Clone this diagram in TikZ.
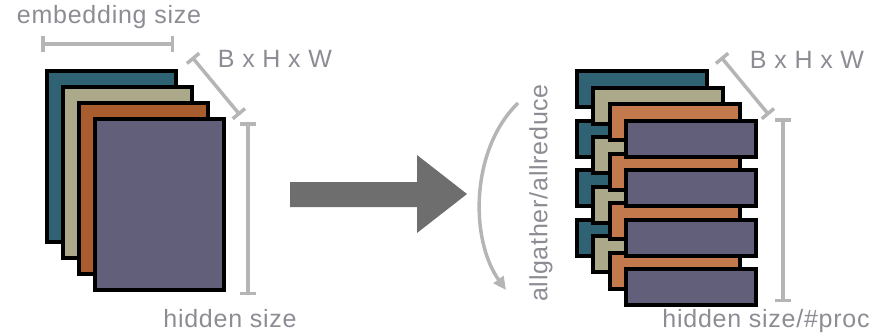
\documentclass[tikz,border=0pt]{standalone}
\usepackage{fontspec}
\setmainfont{Liberation Sans}
\usepackage{xcolor}
\usepackage{tikz}
\usetikzlibrary{arrows.meta,positioning,calc}
\definecolor{LTeal}    {HTML}{2F6272}
\definecolor{LKhaki}   {HTML}{ACA98A}
\definecolor{LOrange}  {HTML}{A95D2E}
\definecolor{ROrange}  {HTML}{C27A4C}
\definecolor{LPurple}  {HTML}{615F7A}
\definecolor{LblGray}  {HTML}{8C8C94}
\definecolor{BarGray}  {HTML}{B5B5B5}
\definecolor{ArrGray}  {HTML}{6E6E6E}

\begin{document}
\begin{tikzpicture}[x=1pt,y=-1pt,
    slab/.style={draw=black,line width=4pt,inner sep=0pt,anchor=north west},
    dim/.style={{Bar[width=16pt]}-{Bar[width=16pt]},BarGray,line width=3.5pt},
    lbl/.style={font=\fontsize{25}{28}\selectfont\addfontfeature{LetterSpace=3},text=LblGray,inner sep=0pt}
  ]
    \useasboundingbox (0,0) rectangle (883,335);
    % left: full slabs
    \foreach \c [count=\i from 0] in {LTeal,LKhaki,LOrange,LPurple}
      \node[slab,fill=\c,minimum width=129pt,minimum height=171pt]
        (L\i) at (45+16*\i,69+16*\i) {};
    \coordinate (ea) at (41,44);
    \coordinate (eb) at (174,44);
    \draw[dim](ea)--(eb);
    \node[lbl,anchor=base](emb) at (109,23) {embedding size};
    \coordinate (da) at (192,57);
    \coordinate (db) at (240,115);
    \draw[dim](da)--(db);
    \node[lbl,anchor=base](bhw) at (275,67) {B x H x W};
    \coordinate (ha) at (248,122);
    \coordinate (hb) at (248,295);
    \draw[dim](ha)--(hb);
    \node[lbl,anchor=base](hid) at (230,327) {hidden size};
    % big arrow
    \fill[ArrGray](290,182)--(417,182)--(417,155)--(467,194)--(417,233)--(417,207)--(290,207)--cycle;
    % collective op
    \coordinate (ca) at (518,103);
    \coordinate (cb) at (506,290);
    \draw[-{Triangle[length=13pt,width=12pt]},BarGray,line width=3.5pt]
      (ca) .. controls (470,150) and (470,240) .. (cb);
    \node[lbl,rotate=90](coll) at (541,193) {allgather/allreduce};
    % right: split slabs
    \foreach \c [count=\i from 0] in {LTeal,LKhaki,ROrange,LPurple}
      \foreach \k in {0,1,2,3}
        \node[slab,fill=\c,minimum width=130pt,minimum height=36pt]
          (R\i\k) at (575+16.3*\i,69+16.5*\i+49.5*\k) {};
    \coordinate (rda) at (721,57);
    \coordinate (rdb) at (769,115);
    \draw[dim](rda)--(rdb);
    \node[lbl,anchor=base](rbhw) at (807,68) {B x H x W};
    \coordinate (rha) at (783,118);
    \coordinate (rhb) at (783,302);
    \draw[dim](rha)--(rhb);
    \node[lbl,anchor=base](rhid) at (766,327) {hidden size/\#proc};
  \end{tikzpicture}
\end{document}
